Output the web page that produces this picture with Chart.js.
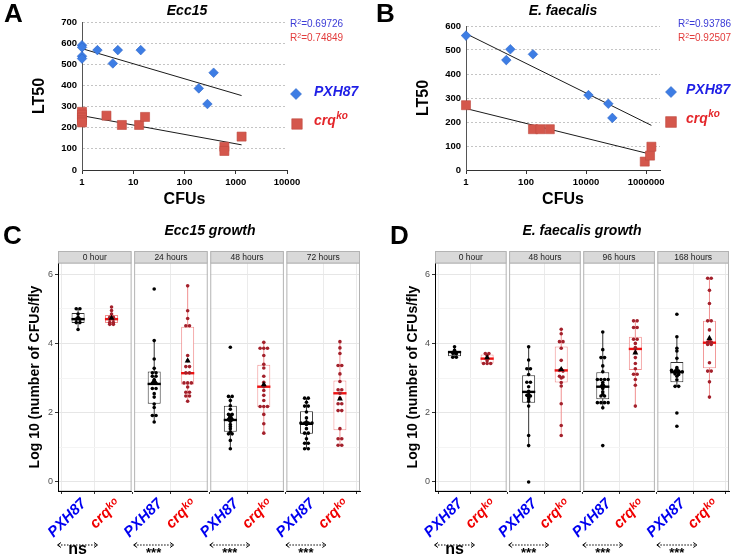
<!DOCTYPE html>
<html>
<head>
<meta charset="utf-8">
<script src="https://cdn.jsdelivr.net/npm/chart.js@4.4.1/dist/chart.umd.min.js"></script>
<style>
  body { margin: 0; width: 738px; height: 556px; position: relative; overflow: hidden; background: #fff;
         font-family: "Liberation Sans", Arial, sans-serif; }
  canvas { position: absolute; }
  .t { position: absolute; white-space: nowrap; }
  .letter { font-weight: bold; font-size: 26px; line-height: 26px; }
  .ptitle { font-weight: bold; font-style: italic; font-size: 14px; line-height: 14px; transform: translateX(-50%); }
  .r2 { font-size: 10px; line-height: 10px; }
  .r2 sup { font-size: 7px; vertical-align: 3px; line-height: 0; }
</style>
</head>
<body>
<canvas id="chA" width="370" height="215" style="left:0;top:0"></canvas>
<canvas id="chB" width="368" height="215" style="left:370px;top:0"></canvas>
<canvas id="chC" width="370" height="316" style="left:0;top:240px"></canvas>
<canvas id="chD" width="368" height="316" style="left:370px;top:240px"></canvas>

<div class="t letter" style="left:4px;top:0">A</div>
<div class="t letter" style="left:376px;top:0">B</div>
<div class="t letter" style="left:3px;top:222px">C</div>
<div class="t letter" style="left:390px;top:222px">D</div>
<div class="t ptitle" style="left:187px;top:3px">Ecc15</div>
<div class="t ptitle" style="left:563px;top:3px">E. faecalis</div>
<div class="t ptitle" style="left:210px;top:223px">Ecc15 growth</div>
<div class="t ptitle" style="left:582px;top:223px">E. faecalis growth</div>
<div class="t r2" id="r2a1" style="left:290px;top:19px;color:#3b3bd6"></div>
<div class="t r2" id="r2a2" style="left:290px;top:33px;color:#e23c3c"></div>
<div class="t r2" id="r2b1" style="left:678px;top:19px;color:#3b3bd6"></div>
<div class="t r2" id="r2b2" style="left:678px;top:33px;color:#e23c3c"></div>

<script>
const FONT = '"Liberation Sans", Arial, sans-serif';
Chart.defaults.font.family = FONT;

// ---------- A: Ecc15, LT50 vs CFUs
const eccPxhCfu = [1, 1, 1, 1, 2, 4, 5, 14, 190, 280, 370];
const eccPxhLt50 = [590, 580, 538, 527, 567, 504, 567, 567, 386, 312, 460];
const eccCrqCfu = [1, 1, 1, 1, 1, 3, 6, 13, 17, 600, 600, 1300];
const eccCrqLt50 = [275, 262, 248, 235, 225, 257, 213, 213, 251, 110, 90, 158];
const eccFitCfu = [1, 1300];
const eccPxhFit = [574, 352];
const eccCrqFit = [257, 119];
const eccR2 = ['0.69726', '0.74849'];
const eccCfuTicks = [1, 10, 100, 1000, 10000];

// ---------- B: E. faecalis, LT50 vs CFUs
const faePxhCfu = [1, 22, 30, 170, 12000, 55000, 75000];
const faePxhLt50 = [560, 458, 503, 482, 312, 276, 217];
const faeCrqCfu = [1, 170, 300, 620, 900000, 1350000, 1500000];
const faeCrqLt50 = [270, 170, 170, 170, 35, 60, 97];
const faeFitCfu = [1, 1500000];
const faePxhFit = [568, 186];
const faeCrqFit = [256, 65];
const faeR2 = ['0.93786', '0.92507'];
const faeCfuTicks = [1, 100, 10000, 1000000];

// ---------- C: Ecc15 growth, log10 CFUs/fly
const eccHours = ['0 hour', '24 hours', '48 hours', '72 hours'];
const eccPxhDots = [
  [5.0, 5.0, 4.85, 4.75, 4.7, 4.7, 4.6, 4.6, 4.4],
  [5.57, 4.08, 3.55, 3.28, 3.15, 3.15, 3.05, 3.05, 2.95, 2.9, 2.85, 2.85, 2.7, 2.7, 2.55, 2.45, 2.25, 2.15, 1.92, 1.92, 1.73],
  [3.89, 2.47, 2.47, 2.35, 2.2, 2.1, 1.95, 1.95, 1.9, 1.85, 1.8, 1.8, 1.75, 1.66, 1.6, 1.54, 1.45, 1.39, 1.39, 1.2, 0.96],
  [2.42, 2.42, 2.3, 2.19, 2.19, 2.02, 1.85, 1.7, 1.7, 1.7, 1.7, 1.66, 1.54, 1.41, 1.41, 1.25, 1.12, 1.12, 0.96, 0.96]
];
const eccCrqDots = [
  [5.05, 4.95, 4.85, 4.75, 4.75, 4.7, 4.7, 4.6, 4.6, 4.55, 4.55],
  [5.66, 4.94, 4.72, 4.51, 4.51, 3.65, 3.5, 3.33, 3.33, 3.15, 3.15, 2.86, 2.86, 2.86, 2.74, 2.59, 2.59, 2.48, 2.48, 2.33],
  [4.03, 3.86, 3.86, 3.86, 3.65, 3.4, 3.29, 3.05, 2.88, 2.8, 2.75, 2.64, 2.5, 2.35, 2.18, 2.18, 2.18, 1.95, 1.68, 1.41],
  [4.05, 3.87, 3.71, 3.36, 3.36, 3.12, 2.9, 2.66, 2.66, 2.56, 2.42, 2.26, 2.26, 2.06, 2.06, 1.54, 1.25, 1.25, 1.06, 1.06]
];
// [whisker low, q1, median, q3, whisker high]
const eccPxhBox = [[4.39, 4.59, 4.70, 4.88, 5.01], [1.73, 2.26, 2.83, 3.19, 4.08], [0.96, 1.45, 1.79, 2.20, 2.47], [0.96, 1.39, 1.68, 2.04, 2.42]];
const eccCrqBox = [[4.54, 4.59, 4.70, 4.82, 5.04], [2.33, 2.81, 3.14, 4.48, 5.66], [1.41, 2.16, 2.75, 3.38, 4.03], [1.06, 1.49, 2.56, 2.93, 4.05]];
const eccPxhMean = [4.73, 2.93, 1.89, 1.72];
const eccCrqMean = [4.73, 3.50, 2.81, 2.40];
const eccSig = ['ns', '***', '***', '***'];

// ---------- D: E. faecalis growth
const faeHours = ['0 hour', '48 hours', '96 hours', '168 hours'];
const faePxhDots = [
  [3.9, 3.8, 3.75, 3.72, 3.7, 3.6, 3.6],
  [3.9, 3.52, 3.27, 3.27, 3.1, 2.88, 2.88, 2.75, 2.62, 2.5, 2.48, 2.45, 2.4, 2.33, 2.19, 1.34, 1.05, 0.0],
  [4.33, 3.82, 3.59, 3.59, 3.35, 3.18, 2.96, 2.96, 2.96, 2.96, 2.87, 2.8, 2.75, 2.7, 2.6, 2.53, 2.48, 2.48, 2.29, 2.29, 2.29, 2.29, 2.14, 1.05],
  [4.84, 4.19, 3.86, 3.78, 3.57, 3.3, 3.25, 3.22, 3.2, 3.2, 3.18, 3.15, 3.15, 3.12, 3.1, 3.05, 2.95, 2.76, 2.76, 1.99, 1.61]
];
const faeCrqDots = [
  [3.71, 3.71, 3.65, 3.56, 3.5, 3.42, 3.42, 3.42],
  [4.41, 4.28, 4.05, 4.05, 3.86, 3.51, 3.25, 3.22, 3.2, 3.05, 3.03, 3.0, 2.87, 2.77, 2.26, 1.63, 1.34],
  [4.65, 4.65, 4.46, 4.46, 4.12, 4.12, 4.0, 3.88, 3.84, 3.74, 3.59, 3.42, 3.27, 3.11, 3.11, 2.96, 2.79, 2.19],
  [5.88, 5.88, 5.53, 5.15, 4.65, 4.65, 4.39, 4.1, 4.04, 4.04, 3.97, 3.97, 3.44, 3.2, 3.2, 2.89, 2.45]
];
const faePxhBox = [[3.59, 3.63, 3.75, 3.78, 3.90], [1.05, 2.29, 2.60, 3.08, 3.90], [2.14, 2.39, 2.75, 3.17, 4.33], [2.76, 2.88, 3.17, 3.46, 4.19]];
const faeCrqBox = [[3.42, 3.42, 3.56, 3.68, 3.71], [1.34, 2.87, 3.22, 3.91, 4.41], [2.19, 3.23, 3.84, 4.19, 4.65], [2.45, 3.28, 4.02, 4.65, 5.88]];
const faePxhMean = [3.72, 2.53, 2.82, 3.20];
const faeCrqMean = [3.59, 3.25, 3.73, 4.15];
const faeSig = ['ns', '***', '***', '***'];

const strains = ['PXH87', 'crq'];
const crqSup = 'ko';

// ---------- helpers
const pts = (xs, ys) => xs.map((x, i) => ({x, y: ys[i]}));

const sideLegend = items => ({
  id: 'sideLegend',
  afterDraw(chart) {
    const ctx = chart.ctx;
    ctx.save();
    items.forEach(it => {
      ctx.fillStyle = it.fill;
      ctx.strokeStyle = it.stroke;
      ctx.lineWidth = 0.6;
      Chart.helpers.drawPoint(ctx, {pointStyle: it.style, radius: it.r, borderWidth: 0.6, rotation: 0}, it.x, it.y);
      ctx.fillStyle = it.color;
      ctx.textBaseline = 'middle';
      ctx.font = 'italic bold 14px ' + FONT;
      ctx.fillText(it.text, it.tx, it.ty);
      if (it.sup) {
        const w = ctx.measureText(it.text).width;
        ctx.font = 'italic bold 10px ' + FONT;
        ctx.fillText(it.sup, it.tx + w + 0.5, it.ty - 5);
      }
    });
    ctx.restore();
  }
});

function makeLt50(id, o) {
  return new Chart(document.getElementById(id), {
    type: 'scatter',
    data: {
      datasets: [
        {data: pts(o.pxhCfu, o.pxhLt50), pointStyle: 'rectRot', pointRadius: 4.8, clip: false,
         pointBackgroundColor: '#3d7de4', pointBorderColor: '#2e66c9', pointBorderWidth: 0.6},
        {data: pts(o.crqCfu, o.crqLt50), pointStyle: 'rect', pointRadius: 6.4, clip: false,
         pointBackgroundColor: '#d4574c', pointBorderColor: '#bf4a40', pointBorderWidth: 0.6},
        {data: pts(o.fitCfu, o.pxhFit), showLine: true, pointRadius: 0, borderColor: '#1a1a1a', borderWidth: 1},
        {data: pts(o.fitCfu, o.crqFit), showLine: true, pointRadius: 0, borderColor: '#1a1a1a', borderWidth: 1}
      ]
    },
    options: {
      animation: false, responsive: false, devicePixelRatio: 1,
      layout: {padding: o.pad},
      plugins: {legend: {display: false}, tooltip: {enabled: false}},
      scales: {
        x: {
          type: 'logarithmic', min: 1, max: o.xMax,
          afterBuildTicks: s => { s.ticks = o.ticks.map(v => ({value: v})); },
          afterFit: s => { s.height = 45; },
          ticks: {callback: v => String(v), color: '#000', autoSkip: false, maxRotation: 0, padding: 3,
                  font: {size: 9.5, weight: 'bold'}},
          grid: {drawOnChartArea: false, tickLength: 4, tickColor: '#333'},
          border: {color: '#333', width: 1},
          title: {display: true, text: 'CFUs', color: '#000', font: {size: 16, weight: 'bold'},
                  padding: {top: 0, bottom: 5.4}}
        },
        y: {
          min: 0, max: o.yMax,
          afterFit: s => { s.width = o.yW; },
          ticks: {stepSize: 100, color: '#000', padding: 5, font: {size: 9.5, weight: 'bold'}},
          grid: {color: c => (c.tick && c.tick.value === 0) ? 'rgba(0,0,0,0)' : '#c4c4c4', drawTicks: false},
          border: {color: '#555', width: 1, dash: [2, 2]},
          title: {display: true, text: 'LT50', color: '#000', font: {size: 16, weight: 'bold'},
                  padding: {top: o.titlePad, bottom: 0}}
        }
      }
    },
    plugins: [sideLegend(o.legend)]
  });
}

// facet geometry (units of the shared x axis)
const FACET_W = 2.2, FACET_GAP = 0.075, FACET_STEP = FACET_W + FACET_GAP;
const facetX = (f, c) => f * FACET_STEP + c - 0.4;

// centred dot stacks: dots sharing a bin sit side by side
const dotStack = vals => {
  const bins = new Map();
  vals.forEach(v => {
    const k = Math.round(v / 0.05);
    if (!bins.has(k)) bins.set(k, []);
    bins.get(k).push(v);
  });
  const out = [];
  bins.forEach(g => g.forEach((v, i) => out.push({dx: (i - (g.length - 1) / 2) * 0.11, y: v})));
  return out;
};

function boxDatasets(o) {
  const groups = [
    {dots: o.pxhDots, box: o.pxhBox, c: 1, dot: '#000000', line: '#333333', med: '#000000'},
    {dots: o.crqDots, box: o.crqBox, c: 2, dot: '#a3202b', line: '#f19090', med: '#ee1111'}
  ];
  const ds = [];
  ds.push({type: 'scatter', pointStyle: 'triangle', pointRadius: 3.4, pointBackgroundColor: '#000',
           pointBorderColor: '#000', pointBorderWidth: 0,
           data: o.pxhMean.map((m, f) => ({x: facetX(f, 1), y: m}))
             .concat(o.crqMean.map((m, f) => ({x: facetX(f, 2), y: m})))});
  groups.forEach(g => ds.push({type: 'scatter', pointRadius: 1.8, pointBackgroundColor: g.dot, pointBorderWidth: 0,
    data: g.dots.flatMap((vals, f) => dotStack(vals).map(d => ({x: facetX(f, g.c) + d.dx, y: d.y})))}));
  groups.forEach(g => ds.push({type: 'scatter', pointStyle: 'line', pointRadius: 6.6,
    pointBorderColor: g.med, pointBorderWidth: 2.4,
    data: g.box.map((b, f) => ({x: facetX(f, g.c), y: b[2]}))}));
  groups.forEach(g => ds.push({type: 'bar', backgroundColor: '#ffffff', borderColor: g.line, borderWidth: 1,
    borderSkipped: false, barThickness: 13, grouped: false, inflateAmount: 0,
    data: g.box.map((b, f) => ({x: facetX(f, g.c), y: [b[1], b[3]]}))}));
  groups.forEach(g => ds.push({type: 'bar', backgroundColor: g.line, borderWidth: 0,
    barThickness: 1, grouped: false, inflateAmount: 0,
    data: g.box.map((b, f) => ({x: facetX(f, g.c), y: [b[0], b[4]]}))}));
  return ds;
}

const facetPlugin = (hours, sig) => ({
  id: 'facets',
  beforeDatasetsDraw(chart) {
    const {ctx, chartArea: a, scales: {x}} = chart;
    ctx.save();
    for (let f = 0; f < 4; f++) {
      const l = x.getPixelForValue(f * FACET_STEP);
      const r = x.getPixelForValue(f * FACET_STEP + FACET_W);
      if (f < 3) {
        const nl = x.getPixelForValue((f + 1) * FACET_STEP);
        ctx.fillStyle = '#fff';
        ctx.fillRect(r, a.top - 13, nl - r, a.bottom - a.top + 14);
      }
      ctx.strokeStyle = '#b3b3b3';
      ctx.lineWidth = 1;
      ctx.strokeRect(l + 0.5, a.top, r - l - 1, a.bottom - a.top);
      ctx.strokeStyle = '#000';
      ctx.beginPath();
      ctx.moveTo(l, a.bottom + 0.5); ctx.lineTo(r, a.bottom + 0.5);
      if (f === 0) { ctx.moveTo(l + 0.5, a.top); ctx.lineTo(l + 0.5, a.bottom); }
      ctx.stroke();
      // strip
      ctx.fillStyle = '#d9d9d9';
      ctx.fillRect(l, a.top - 11.5, r - l, 11.5);
      ctx.strokeStyle = '#b3b3b3';
      ctx.strokeRect(l + 0.5, a.top - 11.5, r - l - 1, 11.5);
      ctx.fillStyle = '#1a1a1a';
      ctx.font = '8.5px ' + FONT;
      ctx.textAlign = 'center';
      ctx.textBaseline = 'middle';
      ctx.fillText(hours[f], (l + r) / 2, a.top - 5.5);
    }
    ctx.restore();
  },
  afterDraw(chart) {
    const {ctx, scales: {x}} = chart;
    ctx.save();
    const y = 305;
    for (let f = 0; f < 4; f++) {
      const l = x.getPixelForValue(f * FACET_STEP) - 1, r = l + 41;
      ctx.strokeStyle = '#000';
      ctx.lineWidth = 1;
      ctx.setLineDash([1.5, 1.5]);
      ctx.beginPath(); ctx.moveTo(l + 1, y); ctx.lineTo(r - 1, y); ctx.stroke();
      ctx.setLineDash([]);
      ctx.beginPath();
      ctx.moveTo(l + 4, y - 2.5); ctx.lineTo(l + 0.5, y); ctx.lineTo(l + 4, y + 2.5);
      ctx.moveTo(r - 4, y - 2.5); ctx.lineTo(r - 0.5, y); ctx.lineTo(r - 4, y + 2.5);
      ctx.stroke();
      ctx.fillStyle = '#000';
      ctx.textAlign = 'center';
      ctx.textBaseline = 'alphabetic';
      const ns = sig[f] === 'ns';
      ctx.font = 'bold ' + (ns ? 16 : 13) + 'px ' + FONT;
      ctx.fillText(sig[f], (l + r) / 2, ns ? 314 : 317);
    }
    ctx.restore();
  }
});

function makeFacets(id, o) {
  const xMax = 4 * FACET_W + 3 * FACET_GAP;
  const tickVals = [0, 1, 2, 3].flatMap(f => [facetX(f, 1), facetX(f, 2)]);
  return new Chart(document.getElementById(id), {
    type: 'scatter',
    data: {datasets: boxDatasets(o)},
    options: {
      animation: false, responsive: false, devicePixelRatio: 1,
      layout: {padding: o.pad},
      plugins: {legend: {display: false}, tooltip: {enabled: false}},
      scales: {
        x: {
          type: 'linear', min: 0, max: xMax, offset: false,
          afterBuildTicks: s => { s.ticks = tickVals.map(v => ({value: v})); },
          afterFit: s => { s.height = 65; },
          ticks: {autoSkip: false, minRotation: 45, maxRotation: 45, padding: 1, labelOffset: 6,
                  callback: (v, i) => i % 2 ? strains[1] + '\u1D4F\u1D52' : strains[0],
                  color: c => c.index % 2 ? '#f00000' : '#0000f0',
                  font: {size: 15, weight: 'bold', style: 'italic'}},
          grid: {color: '#ebebeb', tickColor: '#333', tickLength: 3},
          border: {color: '#000'}
        },
        y: {
          min: -0.26, max: 6.32,
          afterBuildTicks: s => { s.ticks = [0, 1, 2, 3, 4, 5, 6].map(v => ({value: v})); },
          afterFit: s => { s.width = o.yW; },
          ticks: {callback: v => v % 2 ? '' : String(v), color: '#4d4d4d', font: {size: 9}, padding: 2},
          grid: {color: c => (c.tick && c.tick.value % 2) ? '#f4f4f4' : '#e6e6e6',
                 tickColor: c => (c.tick && c.tick.value % 2) ? 'rgba(0,0,0,0)' : '#333', tickLength: 3},
          border: {color: '#000'},
          title: {display: true, text: 'Log 10 (number of CFUs/fly', color: '#000',
                  font: {size: 14, weight: 'bold'}, padding: {top: o.titlePad, bottom: 0}}
        }
      }
    },
    plugins: [facetPlugin(o.hours, o.sig)]
  });
}

// ---------- build
makeLt50('chA', {
  pxhCfu: eccPxhCfu, pxhLt50: eccPxhLt50, crqCfu: eccCrqCfu, crqLt50: eccCrqLt50,
  fitCfu: eccFitCfu, pxhFit: eccPxhFit, crqFit: eccCrqFit, ticks: eccCfuTicks,
  xMax: 10000, yMax: 700, yW: 82, titlePad: 30.4,
  pad: {left: 0, top: 22, right: 83, bottom: 0},
  legend: [
    {style: 'rectRot', r: 5.5, x: 296, y: 94, fill: '#3d7de4', stroke: '#2e66c9', text: strains[0], tx: 314, ty: 92, color: '#1f1fe6'},
    {style: 'rect', r: 7.4, x: 297, y: 124, fill: '#d4574c', stroke: '#bf4a40', text: strains[1], sup: crqSup, tx: 314, ty: 121, color: '#e4262a'}
  ]
});

makeLt50('chB', {
  pxhCfu: faePxhCfu, pxhLt50: faePxhLt50, crqCfu: faeCrqCfu, crqLt50: faeCrqLt50,
  fitCfu: faeFitCfu, pxhFit: faePxhFit, crqFit: faeCrqFit, ticks: faeCfuTicks,
  xMax: 2900000, yMax: 600, yW: 96, titlePad: 44.4,
  pad: {left: 0, top: 26, right: 78, bottom: 0},
  legend: [
    {style: 'rectRot', r: 5.5, x: 301, y: 92, fill: '#3d7de4', stroke: '#2e66c9', text: strains[0], tx: 316, ty: 90, color: '#1f1fe6'},
    {style: 'rect', r: 7.6, x: 301, y: 122, fill: '#d4574c', stroke: '#bf4a40', text: strains[1], sup: crqSup, tx: 316, ty: 119, color: '#e4262a'}
  ]
});

makeFacets('chC', {
  pxhDots: eccPxhDots, crqDots: eccCrqDots, pxhBox: eccPxhBox, crqBox: eccCrqBox,
  pxhMean: eccPxhMean, crqMean: eccCrqMean, hours: eccHours, sig: eccSig,
  yW: 58, titlePad: 26.6, pad: {left: 0, top: 23, right: 10, bottom: 0}
});

makeFacets('chD', {
  pxhDots: faePxhDots, crqDots: faeCrqDots, pxhBox: faePxhBox, crqBox: faeCrqBox,
  pxhMean: faePxhMean, crqMean: faeCrqMean, hours: faeHours, sig: faeSig,
  yW: 65, titlePad: 34.6, pad: {left: 0, top: 23, right: 1, bottom: 0}
});

document.getElementById('r2a1').innerHTML = 'R<sup>2</sup>=' + eccR2[0];
document.getElementById('r2a2').innerHTML = 'R<sup>2</sup>=' + eccR2[1];
document.getElementById('r2b1').innerHTML = 'R<sup>2</sup>=' + faeR2[0];
document.getElementById('r2b2').innerHTML = 'R<sup>2</sup>=' + faeR2[1];
</script>
</body>
</html>
